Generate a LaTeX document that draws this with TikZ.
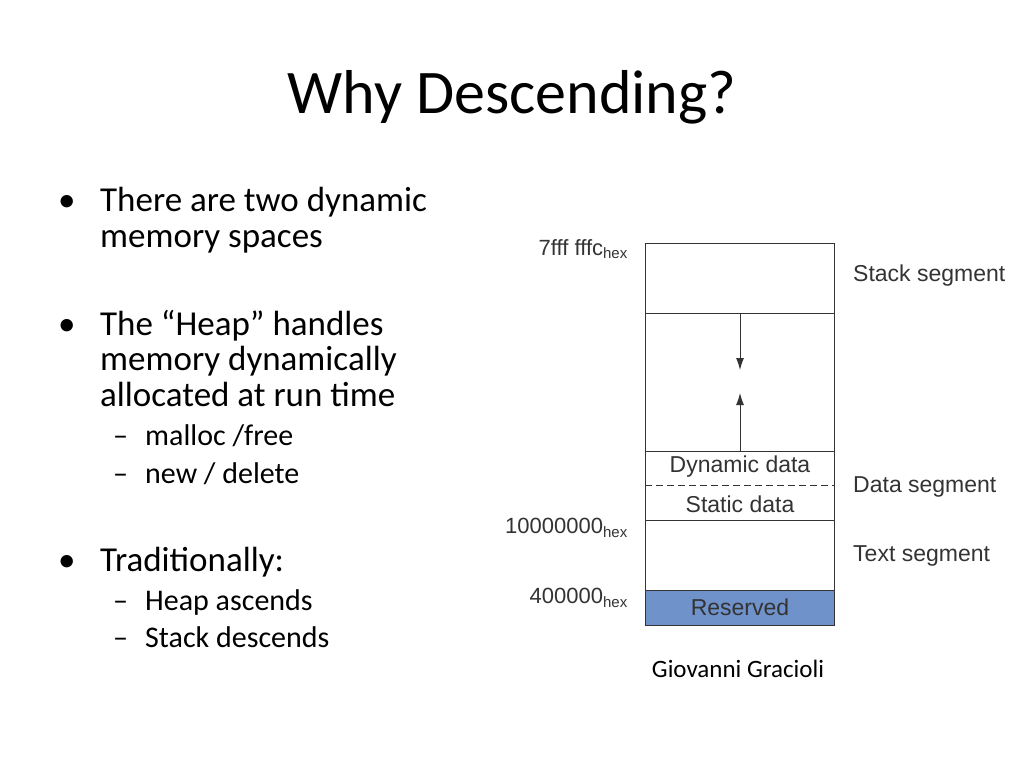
\documentclass[tikz,border=0pt]{standalone}
\usepackage{fontspec}
\setmainfont{Carlito}
\newfontfamily\arialfont{Liberation Sans}
\usetikzlibrary{arrows.meta}
\definecolor{reservedblue}{RGB}{112,146,202}
\tikzset{
    bullet text/.style={anchor=base west, inner sep=0, font=\fontsize{35}{40}\selectfont},
    sub text/.style={anchor=base west, inner sep=0, font=\fontsize{30}{34}\selectfont},
    seg label/.style={anchor=west, inner sep=0, font=\arialfont\fontsize{23}{26}\selectfont, text=black!80},
    addr label/.style={anchor=east, inner sep=0, font=\arialfont\fontsize{22}{26}\selectfont, text=black!80},
    cell text/.style={inner sep=0, font=\arialfont\fontsize{23}{26}\selectfont, text=black!80},
    mem line/.style={draw=black!80, line width=1pt},
}
\newcommand{\hexsub}{\textsubscript{\fontsize{15}{15}\selectfont hex}}
\begin{document}
\begin{tikzpicture}[x=1pt, y=-1pt]
\useasboundingbox (0,0) rectangle (1024,768);

% title
\node[font=\fontsize{62}{66}\selectfont] (title) at (512,97) {Why Descending?};

% bullets
\foreach \y/\txt in {211/There are two dynamic, 247/memory spaces,
    335/The ``Heap'' handles, 370/memory dynamically, 406/allocated at run time,
    571/Traditionally:}
    \node[bullet text] at (100,\y) {\txt};
\foreach \y in {211,335,571}
    \node[bullet text] at (58,\y) {\textbullet};
\foreach \y/\txt in {445/{malloc /free}, 483/{new / delete}, 610/Heap ascends, 647/Stack descends} {
    \node[sub text] at (113,\y) {\textendash};
    \node[sub text] at (145,\y) {\txt};
}

% memory layout
\fill[reservedblue] (645,590) rectangle (834,625);
\draw[mem line] (645,243) rectangle (834,625);
\foreach \y in {313,451,520,590}
    \draw[mem line] (645,\y) -- (834,\y);
\draw[mem line, dash pattern=on 7pt off 4pt] (645,485.5) -- (834,485.5);
\coordinate (stacktop) at (740,313);
\coordinate (stackend) at (740,370);
\coordinate (heaptop) at (740,451);
\coordinate (heapend) at (740,393);
\draw[mem line, -{Latex[length=12pt,width=8pt]}] (stacktop) -- (stackend);
\draw[mem line, -{Latex[length=12pt,width=8pt]}] (heaptop) -- (heapend);

\node[cell text] (dyn) at (740,467) {Dynamic data};
\node[cell text] (stat) at (740,504) {Static data};
\node[cell text] (res) at (740,607) {Reserved};

\node[seg label] (stackseg) at (853,276) {Stack segment};
\node[seg label] (dataseg) at (853,487) {Data segment};
\node[seg label] (textseg) at (853,556) {Text segment};

\node[addr label] (a1) at (628,249) {7fff fffc\hexsub};
\node[addr label] (a2) at (628,528) {10000000\hexsub};
\node[addr label] (a3) at (628,598) {400000\hexsub};

\node[font=\fontsize{25}{28}\selectfont] (credit) at (738,669) {Giovanni Gracioli};
\end{tikzpicture}
\end{document}
